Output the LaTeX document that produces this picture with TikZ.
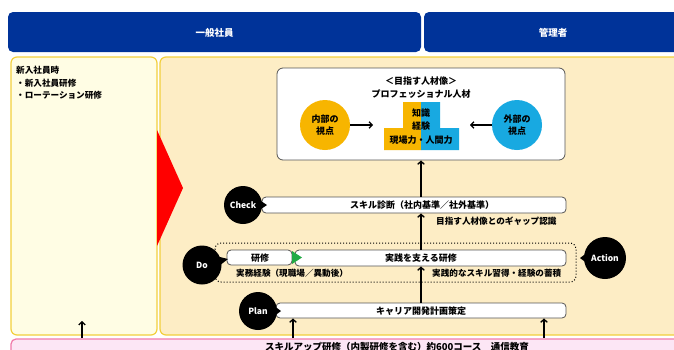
\documentclass[tikz,border=0pt]{standalone}
\usepackage{fontspec}
\setmainfont{Noto Sans CJK JP}
\usetikzlibrary{arrows.meta,shapes.geometric}
\definecolor{hdrblue}{RGB}{0,51,153}
\definecolor{panelL}{RGB}{255,253,228}
\definecolor{panelR}{RGB}{253,237,197}
\definecolor{gold}{RGB}{242,207,60}
\definecolor{pinkfill}{RGB}{252,230,245}
\definecolor{pinkline}{RGB}{240,122,170}
\definecolor{orangeC}{RGB}{247,181,0}
\definecolor{blueC}{RGB}{24,169,225}
\definecolor{greenT}{RGB}{34,170,68}
\definecolor{bargray}{RGB}{85,85,85}
\begin{document}
\begin{tikzpicture}[x=1pt,y=-1pt,
  every node/.style={font=\bfseries\fontsize{9}{11}\selectfont, inner sep=0pt},
  hdr/.style={fill=hdrblue, rounded corners=5pt},
  hdrtext/.style={text=white, font=\bfseries\fontsize{9.5}{11}\selectfont},
  panel/.style={draw=gold, line width=1.2pt, rounded corners=6pt},
  bar/.style={draw=bargray, line width=0.8pt, fill=white, rounded corners=4pt},
  pdca/.style={circle, fill=black, text=white, font=\bfseries\fontsize{8.5}{10}\selectfont},
  ann/.style={font=\bfseries\fontsize{8.6}{10}\selectfont, anchor=west},
  arr/.style={-{Straight Barb[length=3pt,width=6.5pt]}, line width=1.3pt},
  view/.style={circle, minimum size=50pt, font=\bfseries\fontsize{9}{12}\selectfont, align=center}
]
\useasboundingbox (0,0) rectangle (674,349);
\clip (0,0) rectangle (674,349);
% headers
\node[hdr, minimum width=413pt, minimum height=40pt] (hL) at (214.5,32) {};
\node[hdrtext] (hLt) at (214.5,33) {一般社員};
\node[hdr, minimum width=280pt, minimum height=40pt] (hR) at (564,32) {};
\node[hdrtext] (hRt) at (553,33) {管理者};
% panels
\node[panel, fill=panelL, minimum width=146pt, minimum height=278pt] (pL) at (84,196) {};
\node[panel, fill=panelR, minimum width=540pt, minimum height=278pt] (pR) at (430,196) {};
\node[draw=pinkline, fill=pinkfill, line width=1.2pt, rounded corners=5pt, minimum width=689pt, minimum height=31pt] (pink) at (355.5,354.5) {};
\node[anchor=north, font=\bfseries\fontsize{9.5}{11}\selectfont] (pinkt) at (397,342) {スキルアップ研修（内製研修を含む）約600コース　通信教育};
% red arrow
\fill[red] (157,130) -- (183,188) -- (157,246) -- cycle;
% left text
\node[anchor=north west, align=left, font=\bfseries\fontsize{8.6}{12.5}\selectfont] (lt) at (16,66) {新入社員時\\・新入社員研修\\・ローテーション研修};
% top box
\node[bar, rounded corners=6pt, minimum width=288pt, minimum height=92pt] (top) at (421,114) {};
\node (t1) at (421,81) {＜目指す人材像＞};
\node (t2) at (421,94) {プロフェッショナル人材};
\node[view, fill=orangeC] (inner) at (325,125) {内部の\\視点};
\node[view, fill=blueC] (outer) at (517,125) {外部の\\視点};
\fill[orangeC] (384,150) -- (384,128) -- (403,128) -- (403,102) -- (421,102) -- (421,150) -- cycle;
\fill[blueC] (421,102) -- (440,102) -- (440,128) -- (459,128) -- (459,150) -- (421,150) -- cycle;
\node (s1) at (421,113) {知識};
\node (s2) at (421,126) {経験};
\node (s3) at (421,140) {現場力・人間力};
\coordinate (stepL) at (373,125);
\coordinate (stepR) at (470,125);
\draw[arr] (inner) -- (stepL);
\draw[arr] (outer) -- (stepR);
% check
\node[bar, minimum width=304pt, minimum height=16pt] (checkbar) at (414,205) {};
\node (checkt) at (422,205) {スキル診断（社内基準／社外基準）};
\fill (258,199) -- (267,205) -- (258,211) -- cycle;
\node[pdca, minimum size=38pt] (check) at (243,205) {Check};
\draw[arr] (top.south |- checkbar.north) -- (top.south);
\node[ann] (gap) at (436,221) {目指す人材像とのギャップ認識};
% do
\draw[dotted, line width=1pt, rounded corners=6pt] (215,243) rectangle (576,282);
\node[bar, minimum width=65pt, minimum height=15pt] (kenshu) at (259.5,257.5) {};
\node (kenshut) at (260,258) {研修};
\node[bar, minimum width=271pt, minimum height=16pt] (jbar) at (430.5,258) {};
\node (jbart) at (421,258) {実践を支える研修};
\fill[greenT] (292,251) -- (302,257.5) -- (292,264) -- cycle;
\node[ann] (jitsumu) at (236,273) {実務経験（現職場／異動後）};
\node[ann] (jissen) at (432,273) {実践的なスキル習得・経験の蓄積};
\fill (216,256) -- (228,259) -- (219,266) -- cycle;
\node[pdca, minimum size=39pt] (do) at (202,265) {Do};
\draw[arr] (top.south |- jbar.north) -- (top.south |- checkbar.south);
% action
\fill (588,252) -- (580,258) -- (588,264) -- cycle;
\node[pdca, minimum size=42pt] (action) at (605,258) {Action};
% plan
\node[bar, minimum width=290pt, minimum height=15pt] (planbar) at (421,310.5) {};
\node (plant) at (421,311) {キャリア開発計画策定};
\fill (273,305) -- (281,311) -- (273,317) -- cycle;
\node[pdca, minimum size=38pt] (plan) at (258,311) {Plan};
\draw[arr] (top.south |- planbar.north) -- (top.south |- jbar.south);
% bottom arrows
\coordinate (a0) at (82,338);
\coordinate (a1) at (293,338);
\coordinate (a2) at (544,338);
\draw[arr] (a0) -- (82,321);
\draw[arr] (a1) -- (a1 |- planbar.south);
\draw[arr] (a2) -- (a2 |- planbar.south);
\end{tikzpicture}
\end{document}
